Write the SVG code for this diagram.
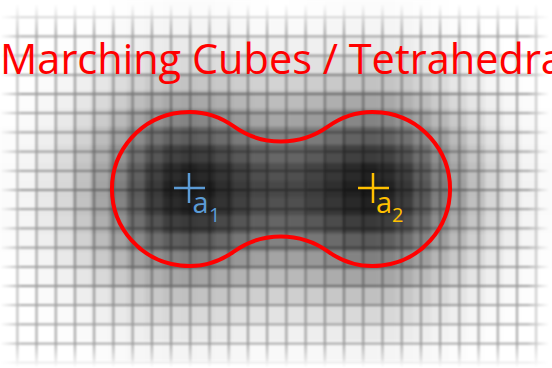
<svg xmlns="http://www.w3.org/2000/svg" width="552" height="368" viewBox="0 0 552 368">
  <style>
    .grid { fill: none; stroke: #000; stroke-opacity: 0.38; stroke-width: 1.8; }
    .contour { fill: none; stroke: #ff0000; stroke-width: 4; }
    .title { font-family: "Open Sans", "Liberation Sans", sans-serif; font-size: 41.5px; fill: #ff0000; }
    .lbl { font-family: "Open Sans", "Liberation Sans", sans-serif; }
    .blue { fill: #5b9bd5; }
    .gold { fill: #ffc000; }
    .xblue { stroke: #5b9bd5; stroke-width: 2.5; fill: none; }
    .xgold { stroke: #ffc000; stroke-width: 2.5; fill: none; }
  </style>
  <defs>
    <radialGradient id="blob">
      <stop offset="0" stop-color="#000" stop-opacity="0.9"/>
      <stop offset="0.1" stop-color="#000" stop-opacity="0.86"/>
      <stop offset="0.2" stop-color="#000" stop-opacity="0.75"/>
      <stop offset="0.3" stop-color="#000" stop-opacity="0.6"/>
      <stop offset="0.4" stop-color="#000" stop-opacity="0.43"/>
      <stop offset="0.5" stop-color="#000" stop-opacity="0.29"/>
      <stop offset="0.6" stop-color="#000" stop-opacity="0.18"/>
      <stop offset="0.7" stop-color="#000" stop-opacity="0.1"/>
      <stop offset="0.8" stop-color="#000" stop-opacity="0.045"/>
      <stop offset="0.9" stop-color="#000" stop-opacity="0.018"/>
      <stop offset="1" stop-color="#000" stop-opacity="0"/>
    </radialGradient>
    <radialGradient id="mid">
      <stop offset="0" stop-color="#000" stop-opacity="0.35"/>
      <stop offset="0.4" stop-color="#000" stop-opacity="0.25"/>
      <stop offset="0.7" stop-color="#000" stop-opacity="0.1"/>
      <stop offset="1" stop-color="#000" stop-opacity="0"/>
    </radialGradient>
    <filter id="pix" filterUnits="userSpaceOnUse" primitiveUnits="userSpaceOnUse" x="0" y="0" width="552" height="368" color-interpolation-filters="sRGB">
      <feFlood flood-color="#000" x="26" y="26" width="2" height="2" result="dot"/>
      <feOffset in="dot" dx="0" dy="0" x="17.3" y="17.2" width="19.22" height="19.2" result="cell"/>
      <feTile in="cell" x="0" y="0" width="552" height="368" result="tiles"/>
      <feComposite in="SourceGraphic" in2="tiles" operator="in" result="samp"/>
      <feMorphology in="samp" operator="dilate" radius="9" result="blk"/>
      <feGaussianBlur in="blk" stdDeviation="1.5"/>
    </filter>
    <filter id="soft" x="-5%" y="-5%" width="110%" height="110%">
      <feGaussianBlur stdDeviation="0.8"/>
    </filter>
    <linearGradient id="fx" x1="0" y1="0" x2="1" y2="0">
      <stop offset="0" stop-color="#fff" stop-opacity="0"/>
      <stop offset="0.04" stop-color="#fff" stop-opacity="1"/>
      <stop offset="0.955" stop-color="#fff" stop-opacity="1"/>
      <stop offset="0.995" stop-color="#fff" stop-opacity="0"/>
    </linearGradient>
    <linearGradient id="fy" x1="0" y1="0" x2="0" y2="1">
      <stop offset="0.01" stop-color="#fff" stop-opacity="0"/>
      <stop offset="0.09" stop-color="#fff" stop-opacity="1"/>
      <stop offset="0.935" stop-color="#fff" stop-opacity="1"/>
      <stop offset="1" stop-color="#fff" stop-opacity="0"/>
    </linearGradient>
    <mask id="mx" maskUnits="userSpaceOnUse" x="0" y="0" width="552" height="368">
      <rect x="0" y="0" width="552" height="368" fill="url(#fx)"/>
    </mask>
    <mask id="my" maskUnits="userSpaceOnUse" x="0" y="0" width="552" height="368">
      <rect x="0" y="0" width="552" height="368" fill="url(#fy)"/>
    </mask>
  </defs>

  <rect x="0" y="0" width="552" height="368" fill="#fff"/>

  <g id="field" filter="url(#pix)">
    <rect x="0" y="0" width="552" height="368" fill="#fff"/>
    <circle cx="188" cy="190" r="200" fill="url(#blob)"/>
    <circle cx="372" cy="190" r="200" fill="url(#blob)"/>
    <ellipse cx="280" cy="190" rx="105" ry="72" fill="url(#mid)"/>
  </g>

  <g id="gridlines" mask="url(#my)">
    <g mask="url(#mx)">
      <path class="grid" filter="url(#soft)" d="M17.3 0V368M36.52 0V368M55.74 0V368M74.96 0V368M94.18 0V368M113.4 0V368M132.62 0V368M151.84 0V368M171.06 0V368M190.28 0V368M209.5 0V368M228.72 0V368M247.94 0V368M267.16 0V368M286.38 0V368M305.6 0V368M324.82 0V368M344.04 0V368M363.26 0V368M382.48 0V368M401.7 0V368M420.92 0V368M440.14 0V368M459.36 0V368M478.58 0V368M497.8 0V368M517.02 0V368M536.24 0V368 M0 17.2H552M0 36.4H552M0 55.6H552M0 74.8H552M0 94H552M0 113.2H552M0 132.4H552M0 151.6H552M0 170.8H552M0 190H552M0 209.2H552M0 228.4H552M0 247.6H552M0 266.8H552M0 286H552M0 305.2H552M0 324.4H552M0 343.6H552M0 362.8H552"/>
    </g>
  </g>

  <g id="contour">
    <path class="contour" d="M233.8 126.4A81.2 81.2 0 0 0 328.2 126.4A77 77 0 1 1 328.2 251.6A81.2 81.2 0 0 0 233.8 251.6A77 77 0 1 1 233.8 126.4Z"/>
  </g>

  <g id="a1">
    <path class="xblue" d="M174 188H205M189 173V203"/>
    <text class="lbl blue" x="192.5" y="213" font-size="29">a</text>
    <text class="lbl blue" x="209" y="222" font-size="20">1</text>
  </g>

  <g id="a2">
    <path class="xgold" d="M358 188H389M373 173V203"/>
    <text class="lbl gold" x="376" y="213" font-size="29">a</text>
    <text class="lbl gold" x="392" y="222" font-size="20">2</text>
  </g>

  <g id="title">
    <text class="title" x="0" y="74">Marching Cubes / Tetrahedra</text>
  </g>
</svg>
